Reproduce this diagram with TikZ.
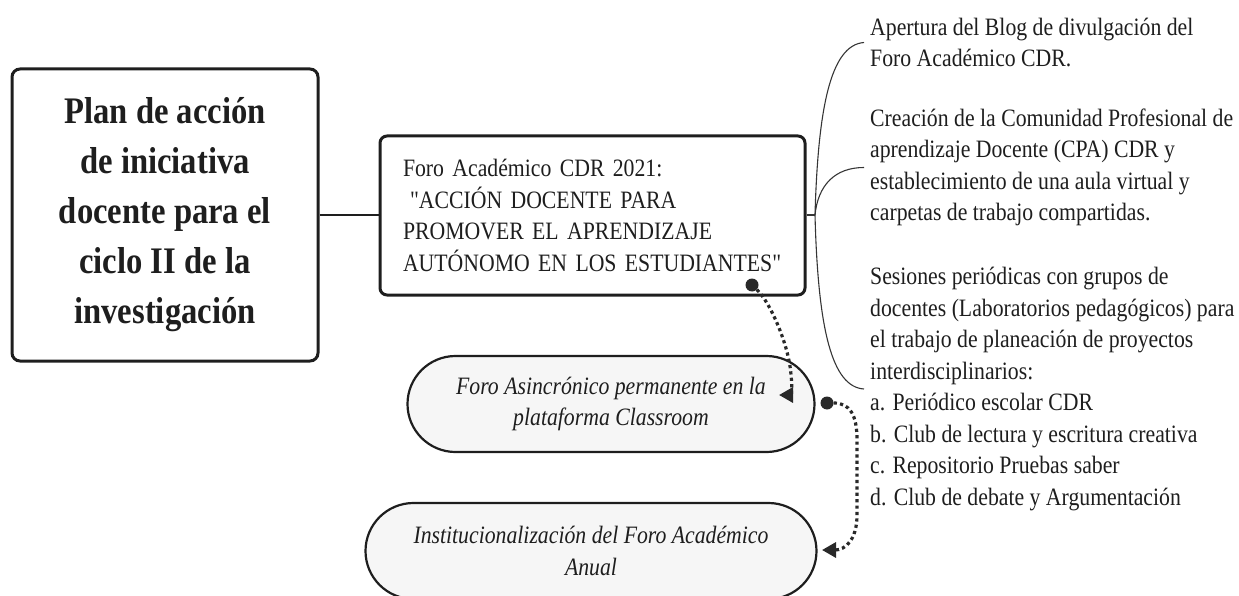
\documentclass[tikz,border=0pt]{standalone}
\usepackage{fontspec}
\newfontfamily\rf{Liberation Serif}[FakeStretch=0.87]
\usetikzlibrary{arrows.meta}
\definecolor{ink}{HTML}{1E1E1E}
\definecolor{pillfill}{HTML}{F6F6F6}
\begin{document}
\begin{tikzpicture}[x=1pt,y=-1pt,
  every node/.style={font=\rf\fontsize{25}{31.5}\selectfont, text=ink},
  mainbox/.style={draw=ink, line width=3pt, rounded corners=8pt, minimum width=306pt, minimum height=292pt, align=center, inner sep=0pt,
     font=\rf\fontsize{37.5}{50}\selectfont\bfseries},
  forobox/.style={draw=ink, line width=3pt, rounded corners=7pt, minimum height=159pt, text width=379pt, inner xsep=23pt, align=left},
  pill/.style={draw=ink, line width=2.2pt, fill=pillfill, rounded corners=48pt, minimum height=96pt, align=center,
     font=\rf\fontsize{25}{31.5}\selectfont\itshape},
  sidetext/.style={anchor=west, inner xsep=6pt, inner ysep=0pt, align=left},
  branch/.style={draw=ink!90, line width=1.1pt},
  link/.style={draw=ink, line width=2.5pt},
  dotline/.style={draw=ink!95, line width=3.2pt, dash pattern=on 3.2pt off 3.2pt, -{Triangle[length=14pt,width=15pt]}},
  dotnode/.style={circle, fill=ink!95, inner sep=0pt, minimum size=13pt}
]
\useasboundingbox (0,0) rectangle (1239,596);

\node[mainbox] (plan) at (165,215) {Plan de acción\\de iniciativa\\docente para el\\ciclo II de la\\investigación};

\node[forobox] (foro) at (592.5,215.5) {Foro Académico CDR 2021:\\\hspace*{0.28em}"ACCIÓN DOCENTE PARA\\PROMOVER EL APRENDIZAJE\\AUTÓNOMO EN LOS ESTUDIANTES"};

\node[pill, minimum width=407pt] (asin) at (611,404) {Foro Asincrónico permanente en la\\plataforma Classroom};
\node[pill, minimum width=451pt] (inst) at (591,551) {Institucionalización del Foro Académico\\Anual};

\node[sidetext] (tA) at (864,42.5) {Apertura del Blog de divulgación del\\Foro Académico CDR.};
\node[sidetext] (tB) at (864,167.5) {Creación de la Comunidad Profesional de\\aprendizaje Docente (CPA) CDR y\\establecimiento de una aula virtual y\\carpetas de trabajo compartidas.};
\node[sidetext] (tC) at (864,389) {Sesiones periódicas con grupos de\\docentes (Laboratorios pedagógicos) para\\el trabajo de planeación de proyectos\\interdisciplinarios:\\a. Periódico escolar CDR\\b. Club de lectura y escritura creativa\\c. Repositorio Pruebas saber\\d. Club de debate y Argumentación};

\coordinate (J) at (815,215);
\draw[link] (plan.east |- 0,215) -- (foro.west |- 0,215);
\draw[branch] (foro.east |- J) -- (J);
\draw[branch] (J) .. controls (818,110) and (830,45) .. (tA.west);
\draw[branch] (J) .. controls (818,185) and (835,167.5) .. (tB.west);
\draw[branch] (J) .. controls (818,330) and (832,387) .. (tC.west);

\node[dotnode] (d1) at (752,285) {};
\node[dotnode] (d2) at (827,403) {};
\coordinate (a1) at (779,395);
\coordinate (a2) at (822,550);
\draw[dotline] (d1) .. controls (770,302) and (789,345) .. (791,375) .. controls (793,392) and (790,395) .. (a1);
\draw[dotline] (d2) .. controls (850,403) and (857,415) .. (857,440) -- (857,515) .. controls (857,540) and (845,550) .. (a2);
\end{tikzpicture}
\end{document}
